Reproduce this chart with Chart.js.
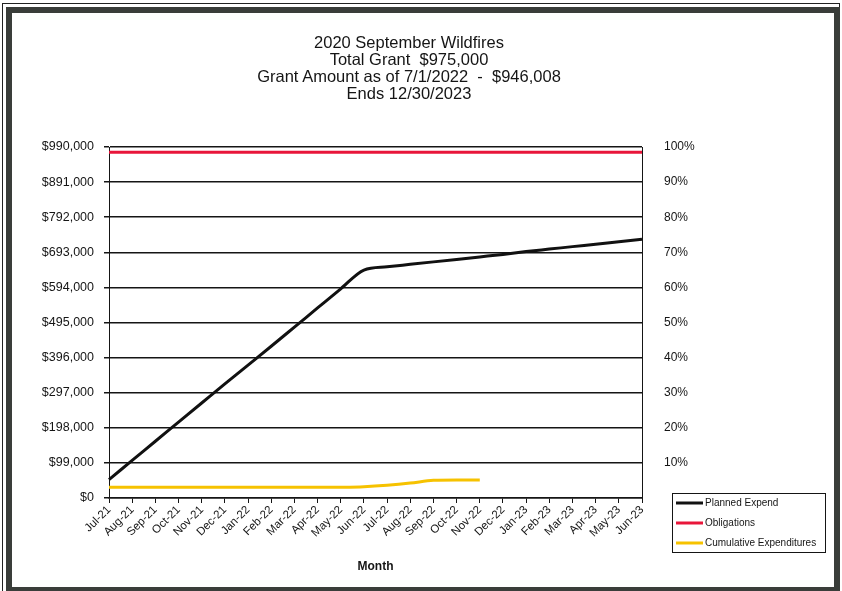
<!DOCTYPE html>
<html>
<head>
<meta charset="utf-8">
<script src="https://cdn.jsdelivr.net/npm/chart.js@4"></script>
<style>
  html, body { margin: 0; padding: 0; background: #fff; }
  body { width: 842px; height: 591px; position: relative; overflow: hidden; }
  #outer { position: absolute; left: 2px; top: 3px; width: 838px; height: 590px; border: 1px solid #222; box-sizing: border-box; }
  #inner { position: absolute; left: 3px; top: 3px; right: -1px; bottom: -1px; border: 6px solid #3a3d3a; box-sizing: border-box; }
  #wrap { position: absolute; left: 0; top: 0; width: 822px; height: 572px; }
  #title { position: absolute; left: 147px; top: 21px; width: 500px; text-align: center;
           font: 16.5px/17px "Liberation Sans", Arial, sans-serif; color: #151515; }
</style>
</head>
<body>
<div id="outer"><div id="inner"><div id="wrap">
  <canvas id="grant-chart"></canvas>
  <div id="title">2020 September Wildfires<br>Total Grant&nbsp; $975,000<br>Grant Amount as of 7/1/2022&nbsp; -&nbsp; $946,008<br>Ends 12/30/2023</div>
</div></div></div>
<script>
// 2020 September Wildfires - planned vs obligations vs cumulative expenditures
const months = ['Jul-21','Aug-21','Sep-21','Oct-21','Nov-21','Dec-21','Jan-22','Feb-22','Mar-22','Apr-22','May-22','Jun-22',
                'Jul-22','Aug-22','Sep-22','Oct-22','Nov-22','Dec-22','Jan-23','Feb-23','Mar-23','Apr-23','May-23','Jun-23'];
const plannedExpend = [52000, 106000, 160000, 214000, 268000, 322000, 375000, 428000, 482000, 536000, 590000, 643000,
                       652000, 659000, 666000, 673000, 680000, 687000, 695000, 702000, 709000, 716000, 723000, 730000];
const obligations = [975000, 975000, 975000, 975000, 975000, 975000, 975000, 975000, 975000, 975000, 975000, 975000,
                     975000, 975000, 975000, 975000, 975000, 975000, 975000, 975000, 975000, 975000, 975000, 975000];
const cumulativeExp = [30000, 30000, 30000, 30000, 30000, 30000, 30000, 30000, 30000, 30000, 30500, 32000,
                       36000, 42000, 50000, 51000, 51000];
const dollarTicks = [0, 99000, 198000, 297000, 396000, 495000, 594000, 693000, 792000, 891000, 990000];
const pctTicks = [10, 20, 30, 40, 50, 60, 70, 80, 90, 100];

const FONT = '"Liberation Sans", Arial, sans-serif';
const INK = '#151515';

// legend box drawn by hand in the lower right corner
const boxLegend = {
  id: 'boxLegend',
  afterDraw(chart) {
    const c = chart.ctx;
    const x = 660, y = 480, w = 153, h = 59;
    c.save();
    c.strokeStyle = INK;
    c.lineWidth = 1;
    c.strokeRect(x + 0.5, y + 0.5, w, h);
    c.font = '10px ' + FONT;
    c.textBaseline = 'middle';
    c.fillStyle = INK;
    chart.data.datasets.forEach((ds, i) => {
      const ly = y + 10 + i * 20;
      c.strokeStyle = ds.borderColor;
      c.lineWidth = 3;
      c.beginPath();
      c.moveTo(x + 4, ly);
      c.lineTo(x + 31, ly);
      c.stroke();
      c.fillText(ds.label, x + 33, ly);
    });
    c.restore();
  }
};

const ctx = document.getElementById('grant-chart').getContext('2d');
new Chart(ctx, {
  type: 'line',
  data: {
    labels: months,
    datasets: [
      { label: 'Planned Expend', data: plannedExpend, borderColor: '#111', borderWidth: 3,
        pointRadius: 0, cubicInterpolationMode: 'monotone', tension: 0.4 },
      { label: 'Obligations', data: obligations, borderColor: '#e8163a', borderWidth: 3, pointRadius: 0 },
      { label: 'Cumulative Expenditures', data: cumulativeExp, borderColor: '#f6c200', borderWidth: 3,
        pointRadius: 0, cubicInterpolationMode: 'monotone' }
    ]
  },
  options: {
    responsive: true,
    maintainAspectRatio: false,
    animation: false,
    layout: { padding: { left: 10, right: 132, top: 134, bottom: 11 } },
    plugins: {
      legend: { display: false },
      tooltip: { enabled: false },
      title: { display: false }
    },
    scales: {
      x: {
        offset: false,
        grid: { drawOnChartArea: false, drawTicks: true, tickLength: 5, color: INK, lineWidth: 1 },
        border: { display: true, color: INK, width: 1.5 },
        ticks: { color: INK, font: { family: FONT, size: 11.5 }, maxRotation: 45, minRotation: 45, autoSkip: false, padding: 0 },
        title: { display: true, text: 'Month', color: INK, font: { family: FONT, size: 12, weight: 'bold' }, padding: { top: 10, bottom: 0 } },
        afterFit(axis) { axis.height = 76; }
      },
      y: {
        position: 'left',
        min: 0,
        max: 990000,
        afterBuildTicks(axis) { axis.ticks = dollarTicks.map(v => ({ value: v })); },
        grid: { color: INK, lineWidth: 1.5, tickLength: 5 },
        border: { display: true, color: INK, width: 1 },
        ticks: {
          color: INK, padding: 10, font: { family: FONT, size: 12.5 },
          callback: v => '$' + v.toLocaleString('en-US')
        },
        afterFit(axis) { axis.width = 87; }
      },
      y1: {
        position: 'right',
        display: true,
        min: 0,
        max: 100,
        afterBuildTicks(axis) { axis.ticks = pctTicks.map(v => ({ value: v })); },
        grid: { display: false, drawTicks: false },
        border: { display: true, color: INK, width: 1 },
        ticks: { color: INK, padding: 22, font: { family: FONT, size: 12 }, callback: v => v + '%' },
        afterFit(axis) { axis.width = 60; }
      }
    }
  },
  plugins: [boxLegend]
});
</script>
</body>
</html>
